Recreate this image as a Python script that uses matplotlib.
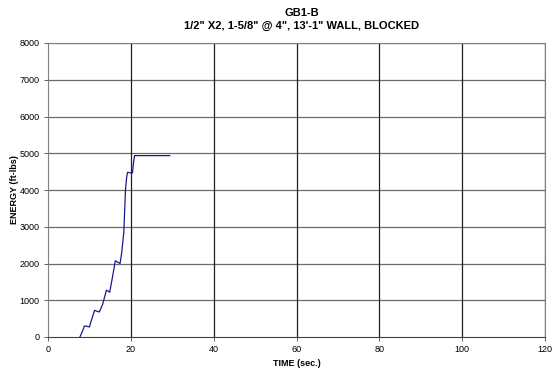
import numpy as np
import matplotlib.pyplot as plt

plt.rcParams['font.family'] = ['Liberation Sans', 'DejaVu Sans']

# energy trace
time_s = [7.7, 8.3, 8.8, 9.4, 10.0, 10.6, 11.25, 11.8, 12.4, 13.2, 14.1, 14.5, 14.9,
          15.6, 16.25, 16.8, 17.4, 17.8, 18.3, 18.5, 18.7, 19.0, 19.2, 19.8, 20.4,
          20.6, 20.9, 25.0, 29.4]
energy = [0, 150, 300, 290, 273, 500, 727, 700, 682, 890, 1273, 1250, 1218,
          1650, 2073, 2040, 2000, 2300, 2845, 3400, 4000, 4350, 4482, 4470, 4464,
          4700, 4936, 4936, 4936]

x_ticks = [0, 20, 40, 60, 80, 100, 120]
y_ticks = [0, 1000, 2000, 3000, 4000, 5000, 6000, 7000, 8000]

fig = plt.figure(figsize=(5.56, 3.75), dpi=100)
ax = fig.add_axes([48/556, 38/375, 497/556, 294/375])

for yv in y_ticks[1:]:
    ax.axhline(yv, color='#6a6a6a', lw=0.9, zorder=1)
for xv in x_ticks[1:]:
    ax.axvline(xv, color='#202020', lw=0.9, zorder=1)

ax.plot(time_s, energy, color='#1a1a8c', lw=0.9, zorder=3)

ax.set_xlim(0, 120)
ax.set_ylim(0, 8000)
ax.set_xticks(x_ticks)
ax.set_yticks(y_ticks)
ax.tick_params(labelsize=6.5, length=3, width=0.7, color='#606060', pad=3)
for s in ax.spines.values():
    s.set_color('#808080')
    s.set_linewidth(0.8)
ax.spines['bottom'].set_color('#404040')

ax.set_xlabel('TIME (sec.)', fontsize=6.5, fontweight='bold', labelpad=3)
ax.set_ylabel('ENERGY (ft-lbs)', fontsize=6.5, fontweight='bold')
ax.yaxis.set_label_coords(-0.058, 0.5)
fig.text(0.543, 0.958, 'GB1-B', ha='center', fontsize=8, fontweight='bold')
fig.text(0.543, 0.922, "1/2\" X2, 1-5/8\" @ 4\", 13'-1\" WALL, BLOCKED",
         ha='center', fontsize=8, fontweight='bold')

fig.savefig('out.png', dpi=100)
